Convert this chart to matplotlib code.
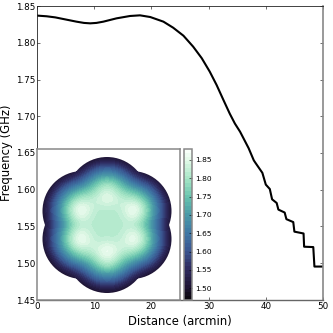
import numpy as np
import matplotlib
matplotlib.use('Agg')
from matplotlib import pyplot as plt
from matplotlib.colors import LinearSegmentedColormap, BoundaryNorm
from matplotlib.path import Path
from matplotlib.patches import PathPatch
from matplotlib.cm import ScalarMappable

distance = [0.1, 1.7, 3.2, 4.6, 6.9, 8.2, 9.3, 10.4, 11.6, 13.9, 16.26, 18.0, 19.8, 22.1, 23.8, 25.6, 27.3, 28.8,
            30.2, 31.4, 32.6, 33.7, 34.6, 35.5, 36.3, 37.0, 37.9, 38.2,
            39.4, 40.0, 40.7, 41.1, 41.9, 42.2, 43.3, 43.6, 44.8, 45.0, 46.6, 46.7, 48.3, 48.5, 50]
frequency = [1.8369, 1.836, 1.8345, 1.8323, 1.8287, 1.827, 1.8264, 1.827, 1.8287, 1.8332, 1.8364, 1.8373, 1.835,
             1.8287, 1.8205, 1.8096, 1.7947, 1.779, 1.7607, 1.7425, 1.722, 1.7035, 1.690, 1.679, 1.667, 1.6565,
             1.640, 1.6365, 1.623, 1.607, 1.601, 1.587, 1.582, 1.573, 1.569,
             1.56, 1.556, 1.543, 1.5405, 1.5225, 1.522, 1.4955, 1.4955]

x_ticks = [0, 10, 20, 30, 40, 50]
y_ticks = [1.45, 1.50, 1.55, 1.60, 1.65, 1.70, 1.75, 1.80, 1.85]
cbar_ticks = [1.50, 1.55, 1.60, 1.65, 1.70, 1.75, 1.80, 1.85]

# map values, top row first, 8.5 px apart
freq_map = np.array([
    [1.44, 1.44, 1.44, 1.44, 1.44, 1.45, 1.47, 1.485, 1.49, 1.485, 1.47, 1.45, 1.44, 1.44, 1.44, 1.44, 1.44],
    [1.44, 1.44, 1.44, 1.45, 1.47, 1.50, 1.54, 1.575, 1.585, 1.575, 1.54, 1.50, 1.47, 1.45, 1.44, 1.44, 1.44],
    [1.44, 1.45, 1.46, 1.49, 1.52, 1.56, 1.62, 1.665, 1.685, 1.665, 1.62, 1.56, 1.52, 1.49, 1.46, 1.45, 1.44],
    [1.44, 1.46, 1.52, 1.565, 1.60, 1.64, 1.70, 1.76, 1.785, 1.76, 1.70, 1.64, 1.60, 1.565, 1.52, 1.46, 1.44],
    [1.45, 1.50, 1.57, 1.64, 1.70, 1.74, 1.765, 1.81, 1.84, 1.81, 1.765, 1.74, 1.70, 1.64, 1.57, 1.50, 1.45],
    [1.47, 1.535, 1.62, 1.71, 1.78, 1.815, 1.815, 1.84, 1.865, 1.84, 1.815, 1.815, 1.78, 1.71, 1.62, 1.535, 1.47],
    [1.47, 1.55, 1.645, 1.75, 1.835, 1.878, 1.84, 1.815, 1.82, 1.815, 1.84, 1.878, 1.835, 1.75, 1.645, 1.55, 1.47],
    [1.47, 1.545, 1.64, 1.74, 1.82, 1.865, 1.825, 1.81, 1.81, 1.81, 1.825, 1.865, 1.82, 1.74, 1.64, 1.545, 1.47],
    [1.47, 1.53, 1.615, 1.70, 1.775, 1.81, 1.815, 1.81, 1.81, 1.81, 1.815, 1.81, 1.775, 1.70, 1.615, 1.53, 1.47],
    [1.47, 1.545, 1.64, 1.74, 1.82, 1.865, 1.825, 1.81, 1.81, 1.81, 1.825, 1.86, 1.82, 1.74, 1.64, 1.545, 1.47],
    [1.47, 1.55, 1.645, 1.75, 1.835, 1.875, 1.84, 1.82, 1.83, 1.82, 1.84, 1.87, 1.835, 1.75, 1.645, 1.55, 1.47],
    [1.47, 1.535, 1.62, 1.71, 1.78, 1.815, 1.82, 1.85, 1.88, 1.85, 1.82, 1.815, 1.78, 1.71, 1.62, 1.535, 1.47],
    [1.45, 1.50, 1.57, 1.64, 1.70, 1.74, 1.765, 1.82, 1.855, 1.82, 1.765, 1.74, 1.70, 1.64, 1.57, 1.50, 1.45],
    [1.44, 1.46, 1.52, 1.565, 1.60, 1.64, 1.70, 1.76, 1.79, 1.76, 1.70, 1.64, 1.60, 1.565, 1.52, 1.46, 1.44],
    [1.44, 1.45, 1.46, 1.49, 1.52, 1.56, 1.62, 1.665, 1.685, 1.665, 1.62, 1.56, 1.52, 1.49, 1.46, 1.45, 1.44],
    [1.44, 1.44, 1.44, 1.45, 1.47, 1.50, 1.54, 1.575, 1.585, 1.575, 1.54, 1.50, 1.47, 1.45, 1.44, 1.44, 1.44],
    [1.44, 1.44, 1.44, 1.44, 1.44, 1.45, 1.47, 1.485, 1.49, 1.485, 1.47, 1.45, 1.44, 1.44, 1.44, 1.44, 1.44],
])

# outline of the map: one circle per beam, centre and radius in inset px
beam_x = [0, 0, -24.5, 24.5, -24.5, 24.5]
beam_y = [28, -28, 14, 14, -14, -14]
beam_r = 40

# colour bar colours as seen at these frequencies
cbar_freqs = [1.468, 1.50, 1.55, 1.60, 1.65, 1.70, 1.75, 1.80, 1.85, 1.879]
cbar_colors = ['#0b0710', '#1e1434', '#2e2a5e', '#3a5590', '#3f78a5', '#4a9aa8', '#67c3ae', '#a5e5c5', '#dff8e6', '#f8fff9']
vmin, vmax = cbar_freqs[0], cbar_freqs[-1]
cmap = LinearSegmentedColormap.from_list(
    'beam', [((f - vmin) / (vmax - vmin), c) for f, c in zip(cbar_freqs, cbar_colors)])
levels = np.linspace(vmin, vmax, 41)
norm = BoundaryNorm(levels, cmap.N)

fig = plt.figure(figsize=(3.33, 3.33), dpi=100)
ax = fig.add_axes([37/333, 1 - 300/333, 286/333, 294/333])
ax.plot(distance, frequency, color='k', lw=1.5)
ax.set_xlim(0, 50)
ax.set_ylim(1.45, 1.85)
ax.set_xticks(x_ticks)
ax.set_yticks(y_ticks)
ax.set_yticklabels(['%.2f' % t for t in y_ticks])
ax.tick_params(direction='in', top=True, right=True, length=2.5, width=0.5, labelsize=6.3, pad=1.5, color='#333333')
ax.set_xlabel('Distance (arcmin)', fontsize=8.4, labelpad=3)
ax.set_ylabel('Frequency (GHz)', fontsize=8.4, labelpad=1.5)
ax.spines['right'].set_color('#888888')
ax.spines['right'].set_linewidth(1.2)
for side in ['top', 'left']:
    ax.spines[side].set_color('#222222')
    ax.spines[side].set_linewidth(0.6)
ax.spines['bottom'].set_color('#666666')
ax.spines['bottom'].set_linewidth(1.0)

inset = fig.add_axes([37/333, 1 - 300/333, 143/333, 150.7/333])
im = inset.imshow(freq_map, cmap=cmap, norm=norm, interpolation='bicubic', interpolation_stage='data',
                  extent=(-72.25, 72.25, -72.25, 72.25), aspect='auto')
inset.set_xlim(-70, 73)
inset.set_ylim(-75, 75.7)
circles = [Path.circle((bx, by), beam_r) for bx, by in zip(beam_x, beam_y)]
outline = PathPatch(Path.make_compound_path(*circles), transform=inset.transData, fc='none', ec='none')
inset.add_patch(outline)
im.set_clip_path(outline)
inset.set_xticks([])
inset.set_yticks([])
for spine in inset.spines.values():
    spine.set_color('#888888')
    spine.set_linewidth(1.1)

cax = fig.add_axes([183.5/333, 1 - 300/333, 8.5/333, 150.7/333])
cbar = fig.colorbar(ScalarMappable(norm=norm, cmap=cmap), cax=cax, spacing='proportional')
cbar.set_ticks(cbar_ticks)
cbar.set_ticklabels(['%.2f' % t for t in cbar_ticks])
cbar.ax.minorticks_off()
cbar.ax.tick_params(direction='in', length=2, width=0.4, labelsize=5.4, pad=2)
cbar.outline.set_edgecolor('#888888')
cbar.outline.set_linewidth(1.1)

fig.savefig('out.png', dpi=100)
